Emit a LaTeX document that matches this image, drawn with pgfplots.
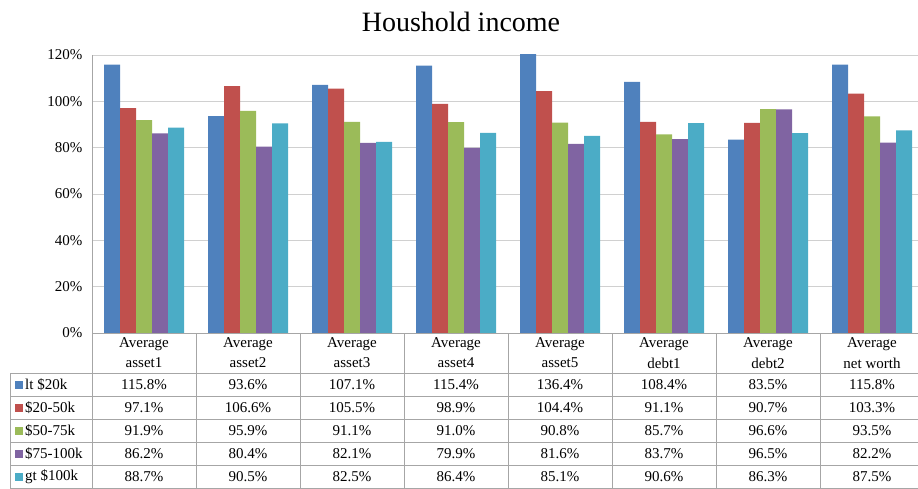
\documentclass[border=0pt]{standalone}
\usepackage{fontspec}
\setmainfont{Liberation Serif}
\usepackage{pgfplots}
\usepackage{pgfplotstable}
\pgfplotsset{compat=1.18}

\definecolor{cBlue}{HTML}{4F81BD}
\definecolor{cRed}{HTML}{C0504D}
\definecolor{cGreen}{HTML}{9BBB59}
\definecolor{cPurple}{HTML}{8064A2}
\definecolor{cCyan}{HTML}{4BACC6}
\definecolor{gridc}{HTML}{D0D0D0}
\definecolor{tabc}{HTML}{A6A6A6}

% one row per category: x, lt $20k, $20-50k, $50-75k, $75-100k, gt $100k
\pgfplotstableread{
x  s1    s2    s3   s4   s5
0  115.8 97.1  91.9 86.2 88.7
1  93.6  106.6 95.9 80.4 90.5
2  107.1 105.5 91.1 82.1 82.5
3  115.4 98.9  91.0 79.9 86.4
4  136.4 104.4 90.8 81.6 85.1
5  108.4 91.1  85.7 83.7 90.6
6  83.5  90.7  96.6 96.5 86.3
7  115.8 103.3 93.5 82.2 87.5
}\incdata

\begin{document}
\begin{tikzpicture}[x=1pt,y=1pt]
\useasboundingbox (0,0) rectangle (918,489);

\node[font=\fontsize{28}{32}\selectfont] at (461,467) {Houshold income};

\begin{axis}[
  at={(92pt,156pt)}, anchor=south west,
  scale only axis, width=826pt, height=278pt,
  ybar=0pt, bar width=16pt,
  xmin=-0.5, xmax=7.44, ymin=0, ymax=120,
  axis x line=bottom, axis y line=left,
  axis line style={draw=tabc, -},
  xtick=\empty,
  ytick={0,20,40,60,80,100,120},
  yticklabels={0\%,20\%,40\%,60\%,80\%,100\%,120\%},
  major tick length=0pt,
  yticklabel style={font=\fontsize{15}{18}\selectfont, xshift=-6pt},
  ymajorgrids, grid style={draw=gridc, line width=0.8pt},
]
\addplot[draw=none, fill=cBlue]   table[x=x,y=s1] {\incdata};
\addplot[draw=none, fill=cRed]    table[x=x,y=s2] {\incdata};
\addplot[draw=none, fill=cGreen]  table[x=x,y=s3] {\incdata};
\addplot[draw=none, fill=cPurple] table[x=x,y=s4] {\incdata};
\addplot[draw=none, fill=cCyan]   table[x=x,y=s5] {\incdata};
\end{axis}

% data table under the chart
\begin{scope}[draw=tabc, line width=0.8pt]
  \foreach \yy in {115.5,92.6,69.7,46.8,23.9,1} \draw (10,\yy) -- (918,\yy);
  \draw (10,1) -- (10,115.5);
  \foreach \k in {0,...,7} \draw ({92+104*\k},1) -- ({92+104*\k},156);
\end{scope}

\begin{scope}[font=\fontsize{15}{18}\selectfont]
  \foreach \k/\nm in {0/asset1,1/asset2,2/asset3,3/asset4,4/asset5,5/debt1,6/debt2,7/net worth} {
    \node at ({144+104*\k},145) {Average};
    \node at ({144+104*\k},126) {\nm};
  }
  \foreach \i/\col/\lab/\cc in {0/s1/lt \$20k/cBlue, 1/s2/\$20-50k/cRed, 2/s3/\$50-75k/cGreen,
                              3/s4/\$75-100k/cPurple, 4/s5/gt \$100k/cCyan} {
    \fill[\cc] (15,{100-22.9*\i}) rectangle (23,{108-22.9*\i});
    \node[anchor=west, inner sep=0pt] at (25,{104-22.9*\i}) {\lab};
    \foreach \k in {0,...,7} {
      \pgfplotstablegetelem{\k}{\col}\of\incdata
      \node at ({144+104*\k},{104-22.9*\i})
        {\pgfmathprintnumber[fixed, fixed zerofill, precision=1, assume math mode=true]{\pgfplotsretval}\%};
    }
  }
\end{scope}
\end{tikzpicture}
\end{document}
